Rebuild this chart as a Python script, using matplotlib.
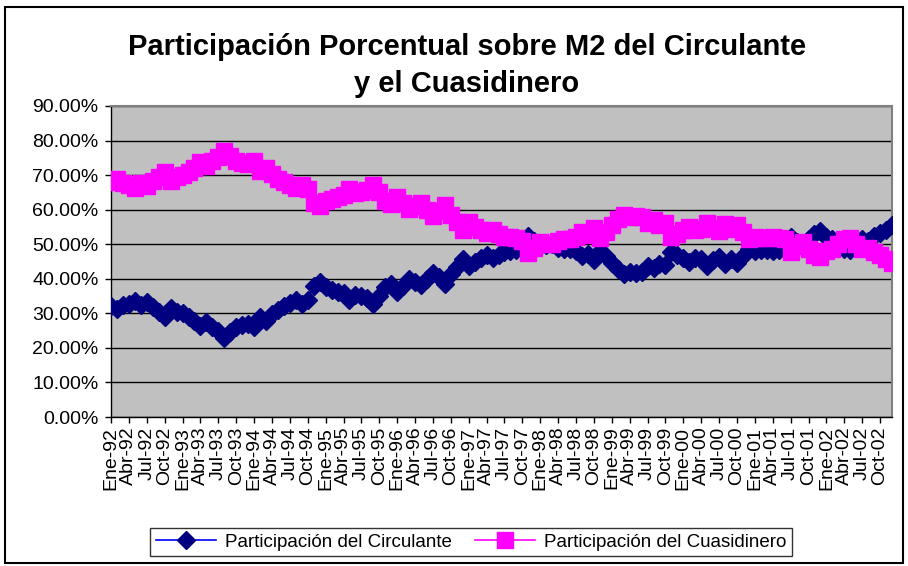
import matplotlib
matplotlib.use("Agg")
import matplotlib.pyplot as plt
from matplotlib.patches import Rectangle
from matplotlib.ticker import FuncFormatter

plt.rcParams['font.family'] = ['Liberation Sans', 'DejaVu Sans']

# monthly data, Ene-92 .. Dic-02 (percent of M2)
circulante = [
    32.1, 31.2, 32.3, 32.8, 33.6, 32.3, 33.2, 31.8, 30.5, 29.0, 31.6, 30.5,
    30.0, 29.0, 27.8, 26.2, 27.5, 26.0, 24.8, 22.9, 24.5, 26.0, 26.5, 26.8,
    26.0, 28.8, 27.8, 29.8, 31.0, 32.0, 33.0, 33.8, 32.8, 34.0, 38.0, 39.0,
    37.5, 36.8, 36.2, 35.8, 34.0, 35.3, 35.0, 34.3, 32.8, 35.0, 37.5, 38.5,
    36.2, 38.0, 39.8, 39.0, 38.1, 40.0, 41.8, 40.5, 38.6, 41.5, 43.5, 45.8,
    43.7, 45.0, 46.0, 46.8, 46.0, 47.0, 47.8, 48.0, 48.2, 49.0, 52.5, 51.0,
    49.5, 49.8, 50.0, 49.0, 48.5, 48.5, 48.0, 46.5, 47.2, 45.3, 48.1, 46.5,
    44.5, 42.8, 41.5, 42.0, 41.8, 42.0, 43.8, 43.0, 44.3, 44.0, 47.8, 47.0,
    46.0, 45.0, 46.0, 45.6, 43.8, 45.3, 46.2, 44.2, 45.6, 44.5, 46.5, 48.5,
    48.0, 48.2, 48.3, 48.0, 48.3, 48.5, 52.2, 50.5, 49.5, 51.5, 53.0, 53.8,
    52.0, 51.5, 50.0, 48.5, 48.2, 50.0, 51.5, 51.0, 52.3, 53.2, 54.2, 55.5,
]
cuasidinero = [
    67.9, 68.8, 67.7, 67.2, 66.4, 67.7, 66.8, 68.2, 69.5, 71.0, 68.4, 69.5,
    70.0, 71.0, 72.2, 73.8, 72.5, 74.0, 75.2, 77.1, 75.5, 74.0, 73.5, 73.2,
    74.0, 71.2, 72.2, 70.2, 69.0, 68.0, 67.0, 66.2, 67.2, 66.0, 62.0, 61.0,
    62.5, 63.2, 63.8, 64.2, 66.0, 64.7, 65.0, 65.7, 67.2, 65.0, 62.5, 61.5,
    63.8, 62.0, 60.2, 61.0, 61.9, 60.0, 58.2, 59.5, 61.4, 58.5, 56.5, 54.2,
    56.3, 55.0, 54.0, 53.2, 54.0, 53.0, 52.2, 52.0, 51.8, 51.0, 47.5, 49.0,
    50.5, 50.2, 50.0, 51.0, 51.5, 51.5, 52.0, 53.5, 52.8, 54.7, 51.9, 53.5,
    55.5, 57.2, 58.5, 58.0, 58.2, 58.0, 56.2, 57.0, 55.7, 56.0, 52.2, 53.0,
    54.0, 55.0, 54.0, 54.4, 56.2, 54.7, 53.8, 55.8, 54.4, 55.5, 53.5, 51.5,
    52.0, 51.8, 51.7, 52.0, 51.7, 51.5, 47.8, 49.5, 50.5, 48.5, 47.0, 46.2,
    48.0, 48.5, 50.0, 51.5, 51.8, 50.0, 48.5, 49.0, 47.7, 46.8, 45.8, 44.5,
]
meses = ['Ene', 'Abr', 'Jul', 'Oct']
anios = ['92', '93', '94', '95', '96', '97', '98', '99', '00', '01', '02']
tick_labels = [m + '-' + a for a in anios for m in meses]

fig = plt.figure(figsize=(9.08, 5.66), dpi=100)
ax = fig.add_axes([111/908, 1 - 417/566, 781/908, 311/566])

x = list(range(len(circulante)))
ax.plot(x, circulante, color='#0000FF', lw=1.2, marker='D', ms=9,
        mfc='#000080', mec='#000080', label='Participación del Circulante', zorder=3)
ax.plot(x, cuasidinero, color='#FF00FF', lw=1.2, marker='s', ms=11,
        mfc='#FF00FF', mec='#FF00FF', label='Participación del Cuasidinero', zorder=4)

ax.set_facecolor('#C0C0C0')
ax.set_xlim(0, len(circulante) - 1)
ax.set_ylim(0, 90)
ax.set_yticks(range(0, 91, 10))
ax.yaxis.set_major_formatter(FuncFormatter(lambda v, p: f"{v:.2f}%"))
ax.grid(axis='y', color='black', lw=1)
ax.set_axisbelow(True)

ax.set_xticks(range(0, len(circulante), 3))
ax.set_xticklabels(tick_labels, rotation=90, fontsize=14)
ax.tick_params(axis='y', labelsize=14, length=4, direction='out', width=1, pad=5)
ax.tick_params(axis='x', length=4, direction='out', width=1, pad=3)

for s in ['top', 'right']:
    ax.spines[s].set_color('#808080')
    ax.spines[s].set_linewidth(1.5)
for s in ['left', 'bottom']:
    ax.spines[s].set_color('black')
    ax.spines[s].set_linewidth(1)

fig.text(467/908, 1 - 47/566, 'Participación Porcentual sobre M2 del Circulante',
         ha='center', va='center', fontsize=21, fontweight='bold')
fig.text(467/908, 1 - 84/566, 'y el Cuasidinero',
         ha='center', va='center', fontsize=21, fontweight='bold')

leg = fig.legend(loc='center', bbox_to_anchor=(471/908, 1 - 542/566), ncol=2,
                 fontsize=13.5, frameon=True, fancybox=False, edgecolor='black',
                 borderpad=0.3, handlelength=3.2, columnspacing=1.2, handletextpad=0.5)
leg.get_frame().set_linewidth(1)

fig.patches.append(Rectangle((5/908, 3/566), 898/908, 556/566, transform=fig.transFigure,
                             fill=False, edgecolor='black', lw=1.5))

fig.savefig('out.png', dpi=100)
